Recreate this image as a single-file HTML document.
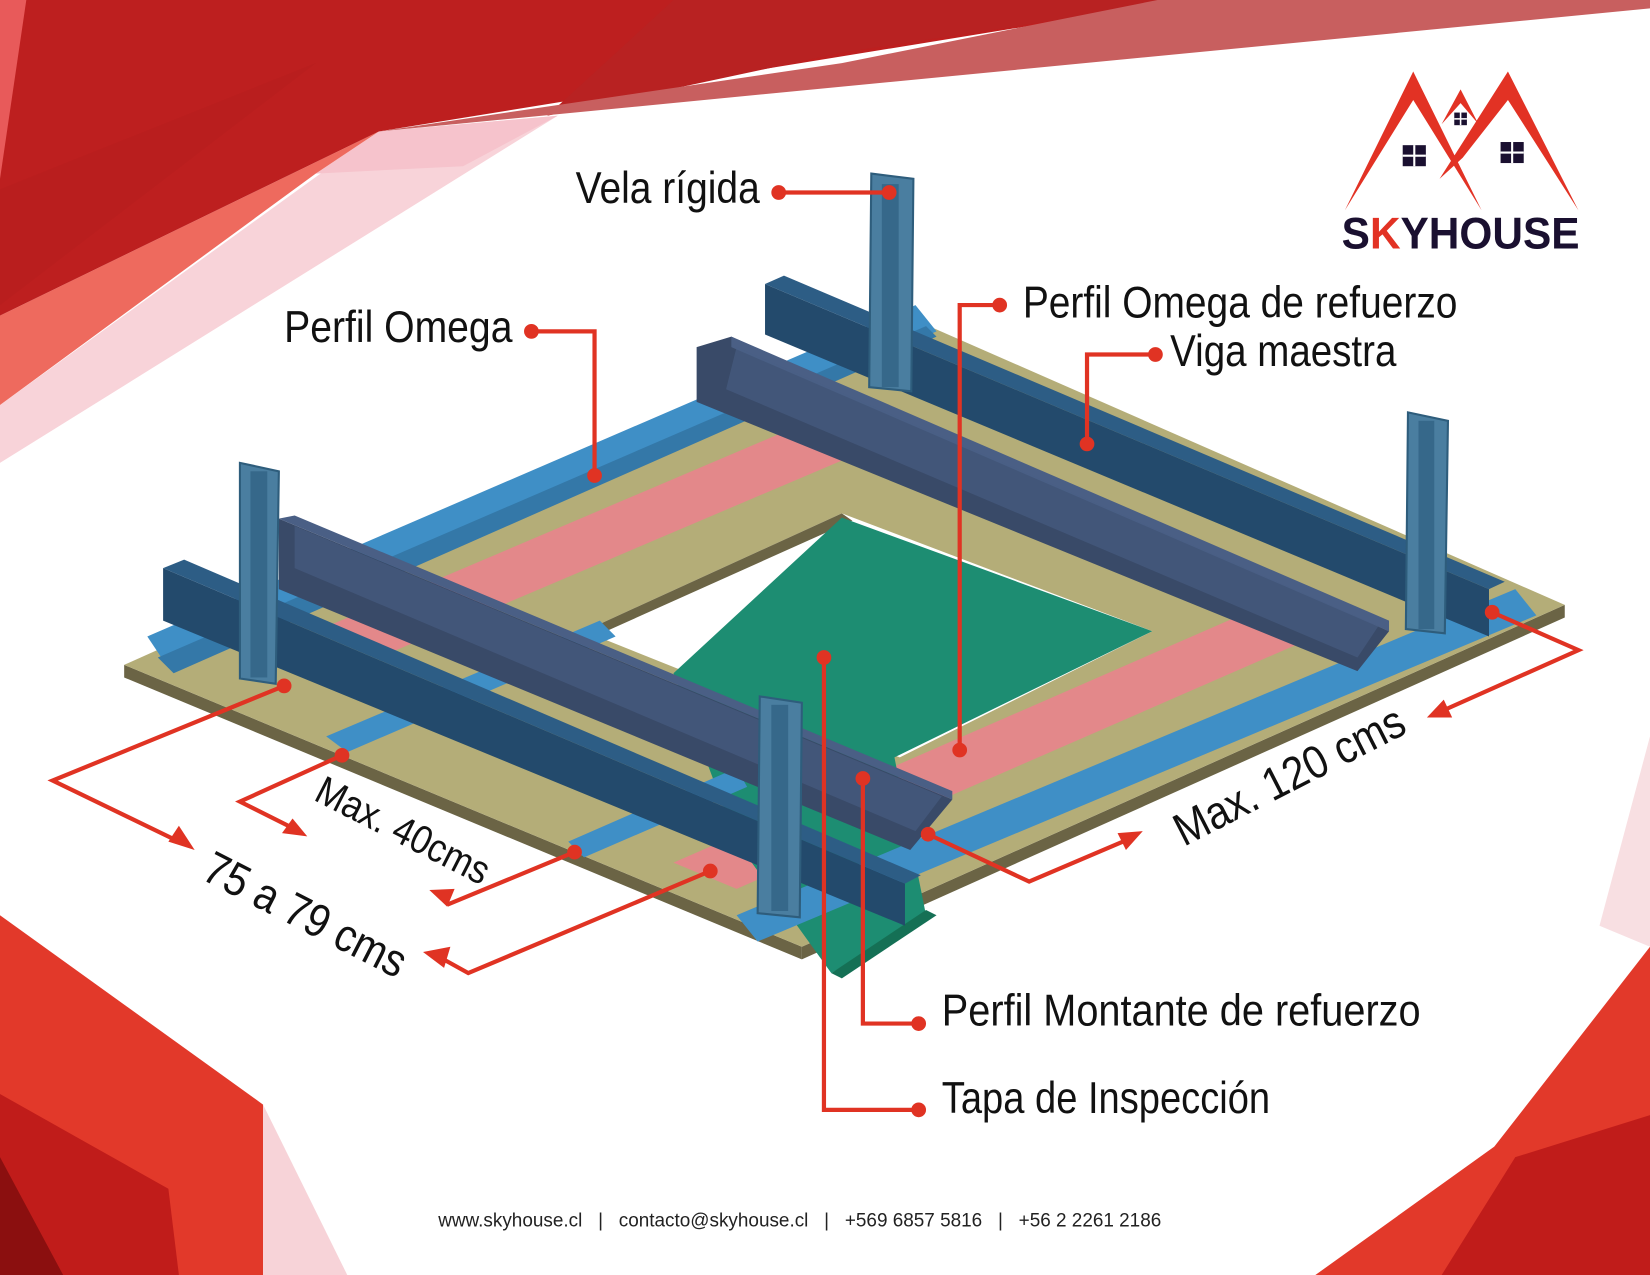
<!DOCTYPE html>
<html><head><meta charset="utf-8"><style>
html,body{margin:0;padding:0;background:#fff;}
svg{display:block;}
text{font-family:"Liberation Sans Narrow","Liberation Sans",sans-serif;}
</style></head><body>
<svg width="1650" height="1275" viewBox="0 0 1568 1212" preserveAspectRatio="none" xmlns="http://www.w3.org/2000/svg">
<rect width="1568" height="1212" fill="#fff"/>
<!-- top background -->
<polygon points="360,125 530,110 0,440 0,385" fill="#f8d3d9"/>
<polygon points="360,125 530,110 440,158 300,165" fill="#f6c3cc"/>
<polygon points="0,300 360,125 300,165 0,385" fill="#ee6a5e"/>
<polygon points="0,0 1130,0 360,125 0,300" fill="#bd1f1f"/>
<polygon points="640,0 1130,0 800,50 520,110" fill="#b82222"/>
<polygon points="1100,0 1568,0 1568,8 360,125 800,60" fill="#c85f5f"/>
<polygon points="0,0 25,0 0,170" fill="#e85a5a"/>
<polygon points="0,180 300,60 0,290" fill="#b51d1d" opacity="0.5"/>
<!-- bottom left -->
<polygon points="0,870 250,1050 250,1212 0,1212" fill="#e2392a"/>
<polygon points="0,1040 160,1130 170,1212 0,1212" fill="#c01c1a"/>
<polygon points="0,1100 60,1212 0,1212" fill="#8b0f0f"/>
<polygon points="250,1050 330,1212 250,1212" fill="#f7d3d8"/>
<!-- bottom right -->
<polygon points="1568,900 1568,1212 1250,1212 1420,1090" fill="#e2392a"/>
<polygon points="1568,1060 1568,1212 1370,1212 1440,1100" fill="#c01c1a"/>
<polygon points="1568,700 1568,900 1520,880" fill="#f8dfe2"/>
<!-- logo -->
<polygon points="1343,68 1278,200 1343,95 1408,200" fill="#e23224"/>
<polygon points="1433,68 1368,170 1390,150 1433,95 1500,200" fill="#e23224"/>
<polygon points="1388,85 1370,118 1388,98 1405,118" fill="#e23224"/>
<rect x="1333" y="138" width="22" height="20" fill="#1a1030"/><path d="M1344,138V158M1333,148H1355" stroke="#fff" stroke-width="2"/>
<rect x="1426" y="135" width="22" height="20" fill="#1a1030"/><path d="M1437,135V155M1426,145H1448" stroke="#fff" stroke-width="2"/>
<rect x="1382" y="107" width="12" height="12" fill="#1a1030"/><path d="M1388,107V119M1382,113H1394" stroke="#fff" stroke-width="1.5"/>
<text x="1275" y="236" font-weight="bold" font-size="42" fill="#1a1030" textLength="226" lengthAdjust="spacingAndGlyphs" style="font-family:'Liberation Sans',sans-serif">S<tspan fill="#e23224">K</tspan>YHOUSE</text>
<!-- board -->
<polygon points="118,632 762,900 762,912 118,644" fill="#6b6445"/>
<polygon points="762,900 1487,575 1487,587 762,912" fill="#6b6445"/>
<polygon points="118,632 860,300 1487,575 762,900" fill="#b4ad78"/>
<!-- pink bands -->
<polygon points="300,600 770,400 830,425 360,625" fill="#e3888a"/>
<polygon points="640,820 1190,580 1250,605 700,845" fill="#e3888a"/>
<!-- hole -->
<polygon points="555,600 800,488 1095,600 855,720" fill="#fff"/>
<polygon points="555,600 800,488 810,495 565,605" fill="#6b6445"/>
<polygon points="640,640 800,492 1095,600 850,720 880,870 790,925 700,800" fill="#1d8d72"/>
<polygon points="790,925 880,865 890,870 800,930" fill="#157055"/>
<!-- blue omega strips -->
<polygon points="140,605 870,290 890,315 160,635" fill="#3f8fc6"/>
<polygon points="150,625 880,310 890,320 165,640" fill="#3478a8"/>
<polygon points="700,870 1440,560 1460,585 720,895" fill="#3f8fc6"/>
<polygon points="310,700 570,590 585,605 330,715" fill="#3f8fc6"/>
<polygon points="540,800 700,730 710,748 555,815" fill="#3f8fc6"/>
<!-- dark beams -->
<polygon points="155,540 860,840 860,880 155,590" fill="#234a6c"/>
<polygon points="155,540 175,532 875,832 860,840" fill="#2d5d85"/>
<polygon points="727,270 1415,560 1415,605 727,318" fill="#234a6c"/>
<polygon points="727,270 745,262 1430,553 1415,560" fill="#2d5d85"/>
<!-- omega refuerzo beams -->
<polygon points="265,493 905,760 865,808 265,560" fill="#394a68"/>
<polygon points="265,493 280,490 905,752 905,760" fill="#4a5f85"/>
<polygon points="662,330 695,320 1320,600 1290,638 662,382" fill="#394a68"/>
<polygon points="695,320 1320,590 1320,600 695,330" fill="#4a5f85"/>
<polygon points="280,500 895,757 870,790 280,540" fill="#4a5f85" opacity="0.6"/>
<polygon points="700,330 1310,595 1290,625 690,370" fill="#4a5f85" opacity="0.6"/>
<!-- posts -->
<g fill="#4a7ea0" stroke="#2e5d7c" stroke-width="2">
<polygon points="228,440 265,448 262,650 228,645"/>
<polygon points="828,165 868,170 866,372 826,368"/>
<polygon points="1338,392 1376,400 1373,602 1336,598"/>
<polygon points="722,662 762,668 760,872 720,868"/>
</g>
<g fill="#36688a">
<rect x="238" y="448" width="16" height="196"/><rect x="838" y="175" width="16" height="193"/>
<rect x="1348" y="400" width="15" height="198"/><rect x="733" y="670" width="16" height="196"/>
</g>
<!-- connectors -->
<g stroke="#e03323" stroke-width="4" fill="none">
<path d="M740,183H845"/>
<path d="M505,315H565V452"/>
<path d="M950,290H912V713"/>
<path d="M1098,337H1033V422"/>
<path d="M873,973H820V740"/>
<path d="M873,1055H783V625"/>
<path d="M270,652L50,742L170,800"/>
<path d="M325,718L228,762L280,788"/>
<path d="M546,810L425,860"/>
<path d="M675,828L445,925L418,910"/>
<path d="M882,793L978,838L1072,798"/>
<path d="M1418,582L1500,618L1370,676"/>
</g>
<g fill="#e03323">
<circle cx="740" cy="183" r="7"/><circle cx="845" cy="183" r="7"/>
<circle cx="505" cy="315" r="7"/><circle cx="565" cy="452" r="7"/>
<circle cx="950" cy="290" r="7"/><circle cx="912" cy="713" r="7"/>
<circle cx="1098" cy="337" r="7"/><circle cx="1033" cy="422" r="7"/>
<circle cx="873" cy="973" r="7"/><circle cx="820" cy="740" r="7"/>
<circle cx="873" cy="1055" r="7"/><circle cx="783" cy="625" r="7"/>
<circle cx="270" cy="652" r="7"/><circle cx="325" cy="718" r="7"/>
<circle cx="546" cy="810" r="7"/><circle cx="675" cy="828" r="7"/>
<circle cx="882" cy="793" r="7"/><circle cx="1418" cy="582" r="7"/>
<polygon points="185,808 160,800 170,785"/>
<polygon points="292,795 268,792 278,778"/>
<polygon points="408,846 432,845 425,862"/>
<polygon points="402,905 428,900 422,920"/>
<polygon points="1086,790 1070,808 1062,792"/>
<polygon points="1356,682 1372,665 1380,682"/>
</g>
<!-- labels -->
<g font-size="42" fill="#111">
<text x="547" y="193" textLength="175" lengthAdjust="spacingAndGlyphs">Vela rígida</text>
<text x="270" y="325" textLength="217" lengthAdjust="spacingAndGlyphs">Perfil Omega</text>
<text x="972" y="302" textLength="413" lengthAdjust="spacingAndGlyphs">Perfil Omega de refuerzo</text>
<text x="1112" y="348" textLength="215" lengthAdjust="spacingAndGlyphs">Viga maestra</text>
<text x="895" y="975" textLength="455" lengthAdjust="spacingAndGlyphs">Perfil Montante de refuerzo</text>
<text x="895" y="1058" textLength="312" lengthAdjust="spacingAndGlyphs">Tapa de Inspección</text>
<text transform="translate(297,760) rotate(27)" font-size="38" textLength="180" lengthAdjust="spacingAndGlyphs">Max. 40cms</text>
<text transform="translate(190,835) rotate(27)" font-size="44" textLength="210" lengthAdjust="spacingAndGlyphs">75 a 79 cms</text>
<text transform="translate(1125,805) rotate(-27)" font-size="44" textLength="240" lengthAdjust="spacingAndGlyphs">Max. 120 cms</text>
</g>
<text x="760" y="1166" text-anchor="middle" font-size="18" fill="#222" style="font-family:'Liberation Sans',sans-serif" xml:space="preserve">www.skyhouse.cl   |   contacto@skyhouse.cl   |   +569 6857 5816   |   +56 2 2261 2186</text>
</svg>
</body></html>
